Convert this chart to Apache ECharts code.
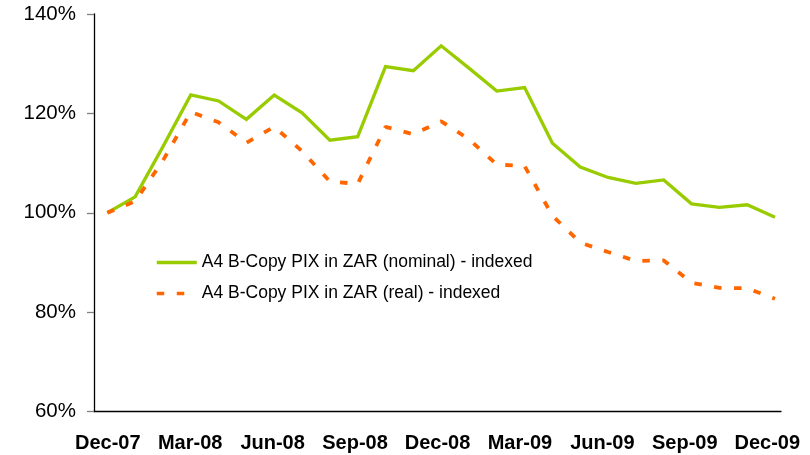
<!DOCTYPE html>
<html>
<head>
<meta charset="utf-8">
<script src="https://cdn.jsdelivr.net/npm/echarts@6/dist/echarts.min.js"></script>
<style>
  html, body { margin: 0; padding: 0; background: #ffffff; }
  #chart { width: 810px; height: 455px; }
</style>
</head>
<body>
<div id="chart"></div>
<script>
// Monthly categories, Dec-07 to Dec-09
const months = ['Dec-07','Jan-08','Feb-08','Mar-08','Apr-08','May-08','Jun-08','Jul-08','Aug-08','Sep-08','Oct-08','Nov-08',
                'Dec-08','Jan-09','Feb-09','Mar-09','Apr-09','May-09','Jun-09','Jul-09','Aug-09','Sep-09','Oct-09','Nov-09','Dec-09'];

// Index values, Dec-07 = 100%
const nominal = [100, 103.2, 113.3, 123.7, 122.5, 118.8, 123.7, 120.1, 114.6, 115.3, 129.4, 128.6,
                 133.6, 129.1, 124.5, 125.2, 114.0, 109.2, 107.1, 105.9, 106.6, 101.8, 101.1, 101.6, 99.1];
const real    = [100, 102.3, 110.5, 120.3, 118.2, 114.1, 117.3, 112.4, 106.3, 105.8, 117.3, 115.8,
                 118.4, 114.8, 109.7, 109.4, 99.4, 94.0, 92.1, 90.3, 90.4, 85.9, 84.9, 84.8, 82.7];

const seriesNames = ['A4 B-Copy PIX in ZAR (nominal) - indexed', 'A4 B-Copy PIX in ZAR (real) - indexed'];

const yMin = 60, yMax = 140, yStep = 20;

const FONT = '"Liberation Sans", Arial, Helvetica, sans-serif';
const TOP = 14, HEIGHT = 397.5;

const chart = echarts.init(document.getElementById('chart'), null, { renderer: 'canvas' });

chart.setOption({
  animation: false,
  backgroundColor: '#ffffff',
  grid: [
    // frame with the visible axes
    { left: 94, top: TOP, width: 687, height: HEIGHT },
    // plotting area for the two lines
    { left: 107.3, top: TOP, width: 667.7, height: HEIGHT }
  ],
  legend: {
    orient: 'vertical',
    left: 155,
    top: 253.5,
    itemWidth: 40,
    itemHeight: 14,
    itemGap: 13,
    padding: 0,
    itemStyle: { opacity: 0 },
    lineStyle: { width: 3.5 },
    textStyle: { fontFamily: FONT, fontSize: 17.5, color: '#000000' },
    data: seriesNames
  },
  xAxis: [
    {
      type: 'category',
      gridIndex: 0,
      data: months,
      boundaryGap: true,
      axisLine: { lineStyle: { color: '#000000', width: 1.3 } },
      axisTick: { interval: 2, length: 6, lineStyle: { color: '#808080', width: 1.3 } },
      axisLabel: {
        interval: 2,
        margin: 22,
        fontFamily: FONT,
        fontSize: 20,
        fontWeight: 'bold',
        color: '#000000'
      },
      splitLine: { show: false }
    },
    {
      type: 'category',
      gridIndex: 1,
      data: months,
      boundaryGap: false,
      show: false
    }
  ],
  yAxis: [
    {
      type: 'value',
      gridIndex: 0,
      min: yMin,
      max: yMax,
      interval: yStep,
      axisLine: { show: true, lineStyle: { color: '#000000', width: 1.3 } },
      axisTick: { show: true, length: 7, lineStyle: { color: '#808080', width: 1.3 } },
      axisLabel: {
        margin: 18,
        formatter: '{value}%',
        fontFamily: FONT,
        fontSize: 20.5,
        color: '#000000'
      },
      splitLine: { show: false }
    },
    {
      type: 'value',
      gridIndex: 1,
      min: yMin,
      max: yMax,
      interval: yStep,
      show: false,
      splitLine: { show: false }
    }
  ],
  series: [
    {
      name: seriesNames[0],
      type: 'line',
      xAxisIndex: 1,
      yAxisIndex: 1,
      data: nominal,
      symbol: 'none',
      color: '#99CC00',
      lineStyle: { color: '#99CC00', width: 3.3, join: 'miter' }
    },
    {
      name: seriesNames[1],
      type: 'line',
      xAxisIndex: 1,
      yAxisIndex: 1,
      data: real,
      symbol: 'none',
      color: '#FF6600',
      lineStyle: { color: '#FF6600', width: 3.8, type: [7.5, 12.5], cap: 'butt' }
    }
  ]
});
</script>
</body>
</html>
